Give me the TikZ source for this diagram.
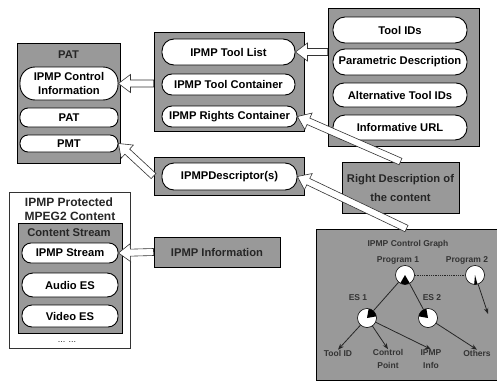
\documentclass[tikz,border=0pt]{standalone}
\usepackage{fontspec}
\setmainfont{Liberation Sans}
\usetikzlibrary{calc,arrows.meta}
\definecolor{boxgray}{gray}{0.6}
\newcommand\pillfont{\bfseries\fontsize{11.2}{14}\selectfont}
\newcommand\blockarrow[2]{%
  \coordinate (ba-h) at ($(#2)!12pt!(#1)$);
  \draw[barrow] ($(#1)!3.5pt!90:(#2)$) -- ($(ba-h)!3.5pt!90:(#2)$) -- ($(ba-h)!9pt!90:(#2)$) -- (#2) -- ($(ba-h)!9pt!-90:(#2)$) -- ($(ba-h)!3.5pt!-90:(#2)$) -- ($(#1)!3.5pt!-90:(#2)$) -- cycle;}
\begin{document}
\begin{tikzpicture}[x=1pt,y=-1pt,
  box/.style={draw=black, line width=0.9pt, fill=boxgray, inner sep=0pt},
  pill/.style={rectangle, rounded corners=8pt, draw=black, line width=0.9pt, fill=white, inner sep=0pt, font=\pillfont, align=center},
  btxt/.style={font=\pillfont, text=black!85, align=center, inner sep=0pt},
  barrow/.style={draw=black!80, line width=0.6pt, fill=white, line join=miter},
  cgtxt/.style={font=\bfseries\fontsize{8.5}{13}\selectfont, text=black!80, align=center, inner sep=0pt},
  gnode/.style={circle, draw=black, fill=white, line width=0.6pt, minimum size=19pt, inner sep=0pt},
  gline/.style={draw=black!85, line width=0.8pt},
  garr/.style={gline, -{Stealth[length=6pt]}}
]
\fill[white] (0,0) rectangle (497,380);
\useasboundingbox (0,0) rectangle (497,380);

% PAT box
\node[box, minimum width=103pt, minimum height=120pt] (patbox) at (68.5,103) {};
\node[btxt] (pattitle) at (68.5,55) {PAT};
\node[pill, minimum width=98pt, minimum height=33pt, rounded corners=15pt] (pci) at (69,83.5) {IPMP Control\\Information};
\node[pill, minimum width=98pt, minimum height=19pt] (ppat) at (69,117.5) {PAT};
\node[pill, minimum width=98pt, minimum height=17pt] (ppmt) at (69,143.5) {PMT};

% top middle box
\node[box, minimum width=150pt, minimum height=99pt] (tmbox) at (229,81.5) {};
\node[pill, minimum width=133pt, minimum height=26pt, rounded corners=12pt] (tlist) at (228.5,52) {IPMP Tool List};
\node[pill, minimum width=133pt, minimum height=21pt, rounded corners=10pt] (tcont) at (228.5,84.5) {IPMP Tool Container};
\node[pill, minimum width=135pt, minimum height=21pt, rounded corners=10pt] (trights) at (229.5,116.5) {IPMP Rights Container};

% top right box
\node[box, minimum width=151pt, minimum height=138pt] (trbox) at (403.5,77) {};
\node[pill, minimum width=134pt, minimum height=26pt, rounded corners=12pt] (tid) at (400,30) {Tool IDs};
\node[pill, minimum width=134pt, minimum height=26pt, rounded corners=12pt] (pdesc) at (400,62) {Parametric Description};
\node[pill, minimum width=134pt, minimum height=24pt, rounded corners=11pt] (alt) at (400,95) {Alternative Tool IDs};
\node[pill, minimum width=134pt, minimum height=25pt, rounded corners=12pt] (url) at (400,127.5) {Informative URL};

% descriptor box
\node[box, minimum width=150pt, minimum height=38pt] (descbox) at (229,176) {};
\node[pill, minimum width=135pt, minimum height=27pt, rounded corners=12pt] (desc) at (229.5,176.5) {IPMPDescriptor(s)};

% right description box
\node[box, btxt, font=\bfseries\fontsize{11.2}{19}\selectfont, minimum width=117pt, minimum height=51pt] (rdbox) at (400.5,187.5) {Right Description of\\the content};

% IPMP information box
\node[box, btxt, minimum width=126pt, minimum height=30pt] (infobox) at (217,252) {IPMP Information};

% protected content box
\node[draw=black!80, line width=0.7pt, fill=white, inner sep=0pt, minimum width=121pt, minimum height=156pt] (mpegbox) at (69.5,270) {};
\node[btxt, font=\bfseries\fontsize{12}{16}\selectfont] (mt1) at (69,202) {IPMP Protected};
\node[btxt, font=\bfseries\fontsize{12}{16}\selectfont] (mt2) at (70,216) {MPEG2 Content};
\node[box, minimum width=104pt, minimum height=110pt] (csbox) at (70,278) {};
\node[btxt] (cstitle) at (69,233) {Content Stream};
\node[pill, minimum width=96pt, minimum height=20pt, rounded corners=9pt] (ipmps) at (70,253) {IPMP Stream};
\node[pill, minimum width=96pt, minimum height=24pt, rounded corners=11pt] (audio) at (70,285) {Audio ES};
\node[pill, minimum width=96pt, minimum height=22pt, rounded corners=10pt] (video) at (70,316) {Video ES};
\node[btxt, font=\fontsize{9}{10}\selectfont] (dots) at (67,342) {... ...};

% control graph box
\node[box, minimum width=181pt, minimum height=151pt] (cgbox) at (406.5,304.5) {};
\node[cgtxt] (cgtitle) at (408,244) {IPMP Control Graph};
\node[cgtxt] (lp1) at (398,260) {Program 1};
\node[cgtxt] (lp2) at (467,260) {Program 2};
\node[gnode] (p1) at (405,275) {};
\node[gnode] (p2) at (475,275) {};
\node[cgtxt] (les1) at (358,298) {ES 1};
\node[cgtxt] (les2) at (432,298) {ES 2};
\node[gnode] (es1) at (367,318) {};
\node[gnode] (es2) at (428,318) {};
\node[cgtxt] (ltool) at (338,353) {Tool ID};
\node[cgtxt] (lcp) at (388,359) {Control\\Point};
\node[cgtxt] (linfo) at (431,359) {IPMP\\Info};
\node[cgtxt] (loth) at (477,353) {Others};
\fill[black] (p1.center) -- ++(240:9.5pt) arc[start angle=240, end angle=300, radius=9.5pt] -- cycle;
\fill[black] (p2.center) -- ++(265:9.5pt) arc[start angle=265, end angle=285, radius=9.5pt] -- cycle;
\fill[black] (es1.center) -- ++(10:9.5pt) arc[start angle=10, end angle=80, radius=9.5pt] -- cycle;
\fill[black] (es2.center) -- ++(100:9.5pt) arc[start angle=100, end angle=170, radius=9.5pt] -- cycle;
\draw[gline] (p1) -- (es1);
\draw[gline] (p1) -- (es2);
\draw[gline, densely dotted] (p1) -- (p2);
\coordinate (p2end) at (488,314);
\draw[garr] (p2) -- (p2end);
\draw[garr] (es1) -- (ltool.north);
\draw[garr] (es1) -- (lcp.north);
\draw[garr] (es1) -- (linfo.north);
\draw[garr] (es2) -- (loth.north);

% block arrows
\coordinate (a1s) at (trbox.west |- tlist.east);
\blockarrow{a1s}{tlist.east}
\coordinate (a2s) at (tmbox.west |- pci.east);
\blockarrow{a2s}{pci.east}
\blockarrow{rdbox.north}{trights.east}
\blockarrow{cgbox.north}{desc.east}
\blockarrow{descbox.west}{ppmt.east}
\blockarrow{infobox.west}{ipmps.east}
\end{tikzpicture}
\end{document}
